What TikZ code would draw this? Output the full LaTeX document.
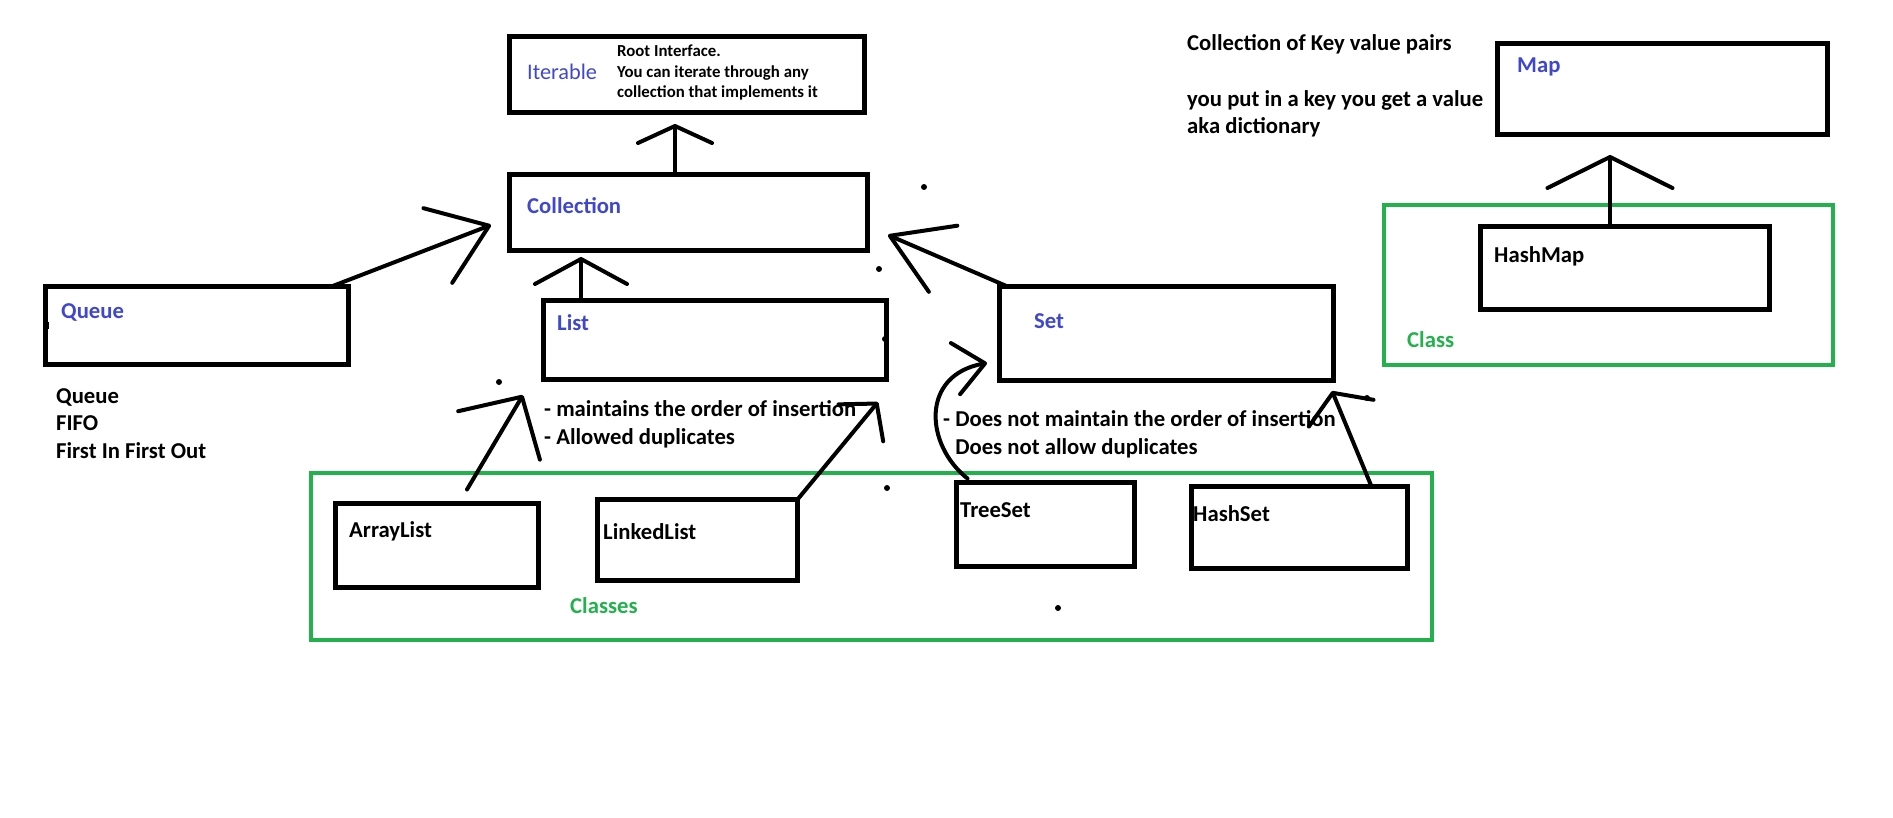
\documentclass[tikz,border=0pt]{standalone}
\usepackage{fontspec}
\setmainfont{Carlito}
\usetikzlibrary{arrows.meta, positioning}
\definecolor{paintblue}{RGB}{63,72,204}
\definecolor{paintgreen}{RGB}{34,177,76}

\begin{document}
\begin{tikzpicture}[x=1pt, y=-1pt,
    box/.style={draw, line width=5pt, inner sep=0pt, outer sep=0pt},
    grp/.style={draw=paintgreen, line width=4pt, inner sep=0pt, outer sep=0pt},
    txt/.style={inner sep=0pt, anchor=west, align=left, font=\fontsize{22.7}{27.7}\selectfont\bfseries},
    iface/.style={txt, text=paintblue},
    conn/.style={line width=4pt, line cap=round, line join=round},
    dot/.style={fill, circle, inner sep=0pt, minimum size=6pt}]
  \useasboundingbox (0,0) rectangle (1893,818);

  % group frames
  \node[grp, minimum width=1121pt, minimum height=167pt] (classes) at (871.5,556.5) {};
  \node[grp, minimum width=449pt, minimum height=160pt] (classgrp) at (1608.5,285) {};

  % interfaces
  \node[box, minimum width=355pt, minimum height=76pt] (iterable) at (687,74.5) {};
  \node[box, minimum width=358pt, minimum height=76pt] (collection) at (688.5,212.5) {};
  \node[box, minimum width=343pt, minimum height=79pt] (list) at (715,340) {};
  \node[box, minimum width=334pt, minimum height=94pt] (set) at (1166.5,333.5) {};
  \node[box, minimum width=303pt, minimum height=78pt] (queue) at (197,325.5) {};
  \node[box, minimum width=330pt, minimum height=91pt] (map) at (1662.5,89) {};

  % classes
  \node[box, minimum width=289pt, minimum height=83pt] (hashmap) at (1625,268) {};
  \node[box, minimum width=203pt, minimum height=84pt] (arraylist) at (437,545.5) {};
  \node[box, minimum width=200pt, minimum height=81pt] (linkedlist) at (697.5,540) {};
  \node[box, minimum width=178pt, minimum height=84pt] (treeset) at (1045.5,524.5) {};
  \node[box, minimum width=216pt, minimum height=82pt] (hashset) at (1299.5,527.5) {};

  % labels
  \node[iface, font=\fontsize{22.3}{27}\selectfont] (iterable-t) at (527,72) {Iterable};
  \node[txt, font=\fontsize{16.8}{20.5}\selectfont\bfseries] (root-t) at (617,72.5)
    {Root Interface.\\You can iterate through any\\collection that implements it};
  \node[iface] (collection-t) at (527,206) {Collection};
  \node[iface] (list-t) at (557,323) {List};
  \node[iface] (set-t) at (1034,321) {Set};
  \node[iface] (queue-t) at (61,312) {Queue};
  \node[iface] (map-t) at (1517,67) {Map};
  \node[txt] (hashmap-t) at (1494,256) {HashMap};
  \node[txt] (arraylist-t) at (349,531) {ArrayList};
  \node[txt] (linkedlist-t) at (603,532) {LinkedList};
  \node[txt] (treeset-t) at (960,510) {TreeSet};
  \node[txt] (hashset-t) at (1193,514) {HashSet};
  \node[txt, text=paintgreen] (classes-t) at (570,606) {Classes};
  \node[txt, text=paintgreen] (classgrp-t) at (1407,340) {Class};

  % notes
  \node[txt] (queue-n) at (56,423.5) {Queue\\FIFO\\First In First Out};
  \node[txt] (list-n) at (544,424.5) {- maintains the order of insertion\\- Allowed duplicates};
  \node[txt] (set-n) at (943,434.5) {- Does not maintain the order of insertion\\\phantom{- }Does not allow duplicates};
  \node[txt] (map-n) at (1187,86) {Collection of Key value pairs\\[27.7pt]you put in a key you get a value\\aka dictionary};

  % arrow tips
  \coordinate (itTip) at (675,124);
  \coordinate (coTipL) at (581,257);
  \coordinate (coTipQ) at (491,225);
  \coordinate (coTipS) at (888,235);
  \coordinate (mpTip) at (1610,155);
  \coordinate (lsTipA) at (523,395);
  \coordinate (lsTipL) at (878,402);
  \coordinate (stTipT) at (987,363);
  \coordinate (stTipH) at (1332,391);

  % connectors
  \draw[conn, -{Straight Barb[round, length=17pt, width=74pt]}] (itTip |- collection.north) -- (itTip);
  \draw[conn, -{Straight Barb[round, length=25pt, width=92pt]}] (coTipL |- list.north) -- (coTipL);
  \draw[conn, -{Straight Barb[round, length=55pt, width=80pt]}] ([xshift=-17pt]queue.north east) -- (coTipQ);
  \draw[conn, -{Straight Barb[round, length=58pt, width=72pt]}] ([xshift=8pt]set.north west) -- (coTipS);
  \draw[conn, -{Straight Barb[round, length=31pt, width=125pt]}] (mpTip |- hashmap.north) -- (mpTip);
  \draw[conn, -{Straight Barb[round, length=45pt, width=95pt]}] ([xshift=30pt, yshift=14pt]arraylist.north) -- (lsTipA);
  \draw[conn, -{Straight Barb[round, length=25pt, width=58pt]}] (linkedlist.north east) -- (lsTipL);
  \draw[conn, -{Straight Barb[round, length=30pt, width=52pt]}] ([xshift=11pt, yshift=4pt]treeset.north west)
    .. controls (925,445) and (920,375) .. (stTipT);
  \draw[conn, -{Straight Barb[round, length=22pt, width=70pt]}] ([xshift=72pt]hashset.north) -- (stTipH);

  % stray pen dots
  \foreach \p in {(499,382), (924,187), (879,269), (885,339), (887,488), (1058,608), (1367,398)}
    \node[dot] at \p {};
  \fill (43,322) rectangle (49,329);
\end{tikzpicture}
\end{document}
